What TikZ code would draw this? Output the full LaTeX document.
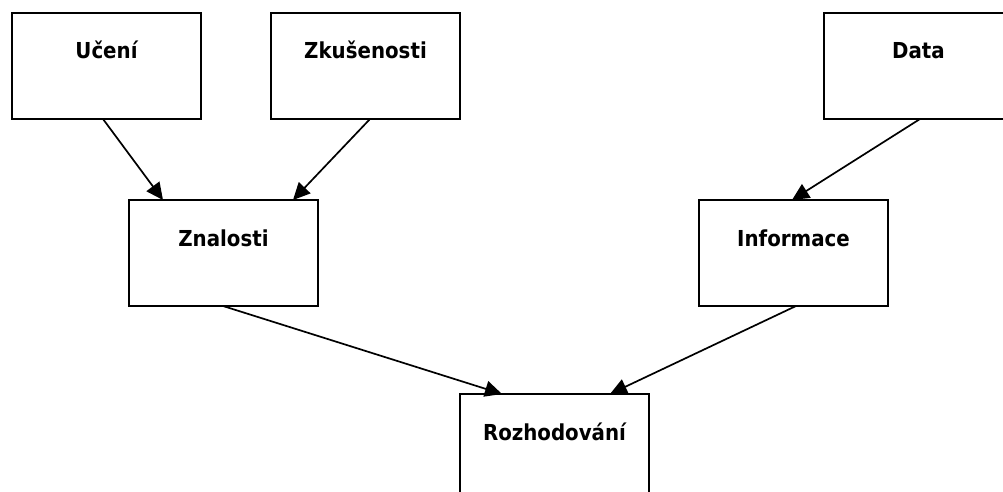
\documentclass[tikz,border=0pt]{standalone}
\usepackage{fontspec}
\setmainfont{DejaVu Sans Condensed}
\usetikzlibrary{arrows.meta}
\begin{document}
\begin{tikzpicture}[x=1pt,y=-1pt,
  box/.style={draw=black, line width=2pt, rectangle, anchor=north west,
    minimum width=189pt, minimum height=106pt, inner sep=0pt, outer sep=0pt,
    label={[anchor=base, yshift=-46pt, inner sep=0pt, font=\bfseries\fontsize{22}{26}\selectfont]north:#1}},
  link/.style={line width=1.7pt, -{Triangle[length=17pt,width=16pt]}}]
  \useasboundingbox (0,0) rectangle (1003,492);
  \clip (0,0) rectangle (1003,492);
  % boxes
  \node[box={Učení}] (ucen) at (12,13) {};
  \node[box={Zkušenosti}] (zkus) at (271,13) {};
  \node[box={Data}] (data) at (824,13) {};
  \node[box={Znalosti}] (znal) at (129,200) {};
  \node[box={Informace}] (info) at (699,200) {};
  \node[box={Rozhodování}] (rozh) at (460,394) {};
  % connectors
  \draw[link] ([xshift=91pt]ucen.south west) -- ([xshift=34pt]znal.north west);
  \draw[link] ([xshift=99pt]zkus.south west) -- ([xshift=164pt]znal.north west);
  \draw[link] ([xshift=96pt]data.south west) -- ([xshift=93pt]info.north west);
  \draw[link] ([xshift=94pt]znal.south west) -- ([xshift=42pt]rozh.north west);
  \draw[link] ([xshift=97pt]info.south west) -- ([xshift=150pt]rozh.north west);
\end{tikzpicture}
\end{document}
